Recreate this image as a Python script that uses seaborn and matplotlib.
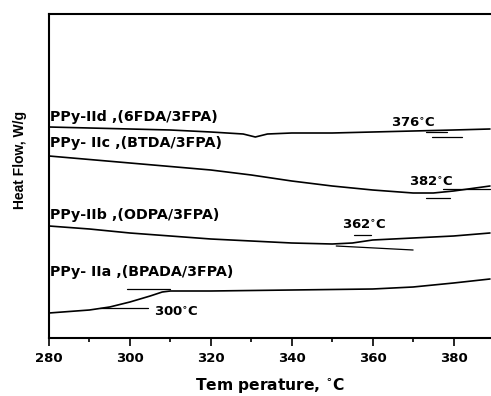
import numpy as np
import pandas as pd
import matplotlib
matplotlib.use("Agg")
import matplotlib.pyplot as plt
import seaborn as sns

sns.set_theme(style="ticks", rc={"text.color": "black", "axes.labelcolor": "black",
                                 "xtick.color": "black", "ytick.color": "black",
                                 "axes.edgecolor": "black"})
plt.rcParams['font.family'] = ['DejaVu Sans']

# Temperature grids and heat-flow traces (arbitrary offset units)
temp_d = [280, 290, 300, 310, 320, 328, 331, 334, 340, 350, 360, 370, 380, 389]
flow_d = [21.3, 21.2, 21.1, 21.0, 20.8, 20.6, 20.3, 20.6, 20.7, 20.7, 20.8, 20.9, 21.0, 21.1]
temp_c = [280, 290, 300, 310, 320, 330, 340, 350, 360, 370, 375, 380, 389]
flow_c = [18.4, 18.05, 17.7, 17.35, 17.0, 16.5, 15.9, 15.4, 15.0, 14.7, 14.7, 14.9, 15.4]
temp_b = [280, 290, 300, 310, 320, 330, 340, 350, 355, 360, 370, 380, 389]
flow_b = [11.4, 11.1, 10.7, 10.4, 10.1, 9.9, 9.7, 9.6, 9.7, 10.0, 10.2, 10.4, 10.7]
temp_a = [280, 290, 295, 300, 305, 308, 310, 320, 340, 360, 370, 380, 389]
flow_a = [2.7, 3.0, 3.3, 3.8, 4.4, 4.8, 4.9, 4.9, 5.0, 5.1, 5.3, 5.7, 6.1]

series_labels = ["PPy-IId ,(6FDA/3FPA)", "PPy- IIc ,(BTDA/3FPA)",
                 "PPy-IIb ,(ODPA/3FPA)", "PPy- IIa ,(BPADA/3FPA)"]
label_y = [22.3, 19.7, 12.5, 6.8]
tg_labels = ["376$^{\\bf{\\circ}}$C", "382$^{\\bf{\\circ}}$C", "362$^{\\bf{\\circ}}$C", "300$^{\\bf{\\circ}}$C"]
tg_label_x = [370.0, 374.6, 358.0, 311.5]
tg_label_y = [21.7, 15.8, 11.5, 2.8]

# tangent construction lines (x pairs, y pairs)
tan_x = [[374.6, 382.2], [373.3, 378.3], [373.3, 379.0], [377.3, 389.0],
         [351.0, 370.0], [355.5, 359.5], [299.3, 309.9], [292.6, 304.4]]
tan_y = [[20.3, 20.3], [20.8, 20.8], [14.2, 14.2], [15.1, 15.1],
         [9.4, 9.0], [10.5, 10.5], [5.07, 5.07], [3.2, 3.2]]

ticks = [280, 300, 320, 340, 360, 380]

fig = plt.figure(figsize=(4.91, 3.96), dpi=100)
ax = fig.add_axes([49/491, 1-338/396, 1-49/491+0.002, (338-14)/396])

frames = []
for t, f, n in [(temp_d, flow_d, "d"), (temp_c, flow_c, "c"), (temp_b, flow_b, "b"), (temp_a, flow_a, "a")]:
    frames.append(pd.DataFrame({"T": t, "HF": f, "s": n}))
df = pd.concat(frames)
sns.lineplot(data=df, x="T", y="HF", units="s", estimator=None, color="black",
             lw=1.2, ax=ax, legend=False, sort=False)

for xs, ys in zip(tan_x, tan_y):
    ax.plot(xs, ys, color="black", lw=0.9)

for lab, y in zip(series_labels, label_y):
    ax.text(280.3, y, lab, fontsize=10.3, fontweight="bold", va="center", ha="left")
for lab, x, y in zip(tg_labels, tg_label_x, tg_label_y):
    ax.text(x, y, lab, fontsize=9.5, fontweight="bold", va="center", ha="center")

ax.set_xlim(280, 389.5)
ax.set_ylim(0.2, 32.6)
ax.set_xticks(ticks)
ax.set_xticklabels([str(t) for t in ticks], fontweight="bold", fontsize=9.5)
ax.set_xticks(np.arange(290, 390, 20), minor=True)
ax.tick_params(axis="x", which="major", length=6, width=1.2, direction="out", pad=4)
ax.tick_params(axis="x", which="minor", length=3, width=1.2, direction="out")
ax.set_yticks([])
ax.set_xlabel("Tem perature, $^{\\bf{\\circ}}$C", fontweight="bold", fontsize=11.2, labelpad=8)
ax.set_ylabel("Heat Flow, W/g", fontweight="bold", fontsize=10,
              fontfamily="Liberation Sans")
ax.yaxis.set_label_coords(-0.05, 0.55)
for side in ["left", "bottom", "top"]:
    ax.spines[side].set_linewidth(1.5)
ax.spines["right"].set_visible(False)

fig.savefig("out.png", dpi=100)
